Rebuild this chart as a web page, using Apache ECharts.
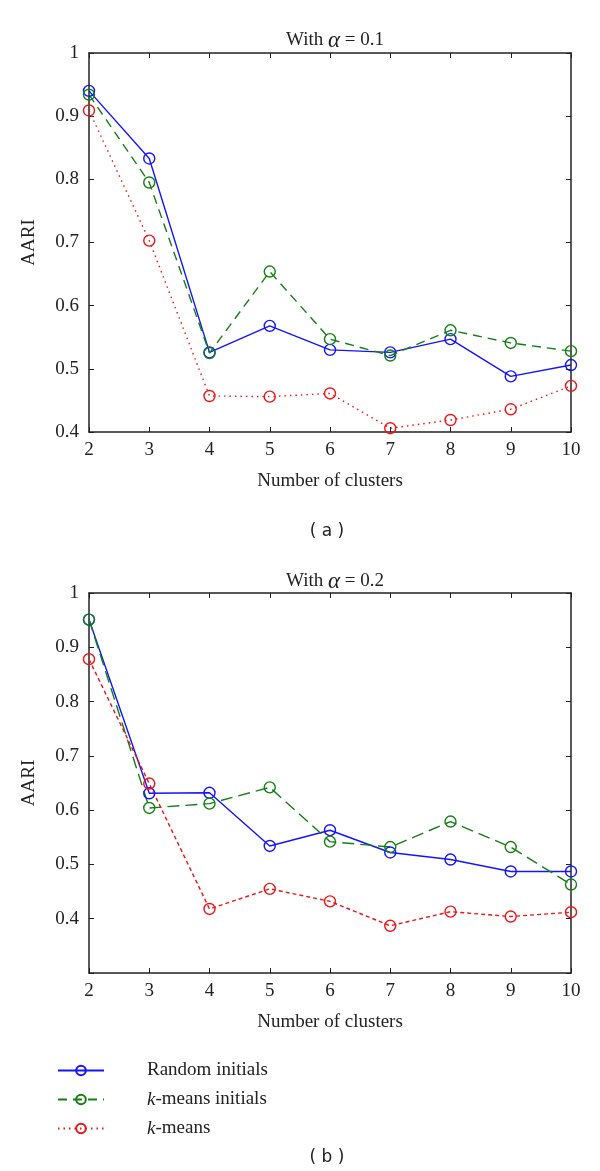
<!DOCTYPE html>
<html><head><meta charset="utf-8">
<script src="https://cdn.jsdelivr.net/npm/echarts@6/dist/echarts.min.js"></script>
<style>html,body{margin:0;padding:0;background:#fff}#c{width:600px;height:1171px}</style>
</head><body><div id="c"></div>
<script>
const clusters = [2,3,4,5,6,7,8,9,10];
const seriesNames = ['Random initials','k-means initials','k-means'];
// panel (a): alpha = 0.1
const aRandom = [0.940,0.833,0.526,0.568,0.530,0.526,0.547,0.488,0.506];
const aKmInit = [0.934,0.795,0.525,0.654,0.547,0.521,0.561,0.541,0.528];
const aKmeans = [0.909,0.703,0.457,0.456,0.461,0.406,0.419,0.436,0.473];
// panel (b): alpha = 0.2
const bRandom = [0.951,0.631,0.632,0.534,0.563,0.522,0.509,0.487,0.487];
const bKmInit = [0.951,0.604,0.612,0.642,0.542,0.532,0.579,0.532,0.463];
const bKmeans = [0.878,0.649,0.418,0.455,0.432,0.387,0.413,0.404,0.412];

const FONT = '"Liberation Serif", "Times New Roman", serif';
const TXT = '#222';
const colors = ['#1414ff','#138013','#f01414'];

function pairs(ys){ return clusters.map((x,i)=>[x, ys[i]]); }

const chart = echarts.init(document.getElementById('c'), null, {renderer:'canvas'});

const gridA = {left:89, width:482, top:53, height:379};
const gridB = {left:89, width:482, top:593, height:380};

function xAx(gi, pos){
  const bottom = pos === 'bottom';
  return {
    type:'value', gridIndex:gi, position:pos, min:2, max:10, interval:1,
    axisLine:{show:true, onZero:false, lineStyle:{color:TXT, width:1.5}},
    axisTick:{show:true, inside:true, length:5, lineStyle:{color:TXT, width:1}},
    splitLine:{show:false},
    axisLabel:{show:bottom, margin:9, color:TXT, fontFamily:FONT, fontSize:19},
    name: bottom ? 'Number of clusters' : '',
    nameLocation:'middle', nameGap:40,
    nameTextStyle:{color:TXT, fontFamily:FONT, fontSize:19}
  };
}
function yAx(gi, pos, min, hideMin){
  const left = pos === 'left';
  return {
    type:'value', gridIndex:gi, position:pos, min:min, max:1, interval:0.1,
    axisLine:{show:true, onZero:false, lineStyle:{color:TXT, width:1.5}},
    axisTick:{show:true, inside:true, length:5, lineStyle:{color:TXT, width:1}},
    splitLine:{show:false},
    axisLabel:{show:left, margin:10, color:TXT, fontFamily:FONT, fontSize:19,
      formatter:function(v){ if(hideMin && Math.abs(v-min)<1e-9) return ''; return String(Math.round(v*10)/10); }},
    name: left ? 'AARI' : '',
    nameLocation:'middle', nameGap:50,
    nameTextStyle:{color:TXT, fontFamily:FONT, fontSize:19}
  };
}

function mk(name, ys, xi, yi, color, type){
  return {
    name:name, type:'line', xAxisIndex:xi, yAxisIndex:yi, data:pairs(ys),
    symbol:'circle', symbolSize:11, showSymbol:true,
    color: color,
    lineStyle:{color:color, width:1.4, type:type},
    itemStyle:{color:'rgba(255,255,255,0)', borderColor:color, borderWidth:1.4},
    emphasis:{disabled:true}, animation:false
  };
}

const titleStyle = {color:TXT, fontFamily:FONT, fontSize:19, fontWeight:'normal',
  rich:{i:{fontStyle:'italic', fontFamily:FONT, fontSize:23, color:TXT}}};

const option = {
  animation:false,
  title:[
    {text:'With {i|α} = 0.1', left:330, top:24, textAlign:'center', textStyle:titleStyle},
    {text:'With {i|α} = 0.2', left:330, top:565, textAlign:'center', textStyle:titleStyle},
    {text:'( a )', left:322, top:518, textAlign:'center',
     textStyle:{color:TXT, fontFamily:'"DejaVu Sans", sans-serif', fontSize:17, fontWeight:'normal'}},
    {text:'( b )', left:322, top:1144, textAlign:'center',
     textStyle:{color:TXT, fontFamily:'"DejaVu Sans", sans-serif', fontSize:17, fontWeight:'normal'}}
  ],
  legend:{
    orient:'vertical', left:52, top:1056, itemWidth:46, itemHeight:12, itemGap:10,
    data:seriesNames,
    formatter:function(n){ return n.indexOf('k-')===0 ? '{i|k}' + n.slice(1) : n; },
    textStyle:{color:TXT, fontFamily:FONT, fontSize:19, padding:[0,0,0,38],
      rich:{i:{fontStyle:'italic', fontFamily:FONT, fontSize:19, color:TXT}}}
  },
  grid:[gridA, gridB],
  xAxis:[xAx(0,'bottom'), xAx(0,'top'), xAx(1,'bottom'), xAx(1,'top')],
  yAxis:[yAx(0,'left',0.4,false), yAx(0,'right',0.4,false), yAx(1,'left',0.3,true), yAx(1,'right',0.3,true)],
  series:[
    mk(seriesNames[0], aRandom, 0, 0, colors[0], 'solid'),
    mk(seriesNames[1], aKmInit, 0, 0, colors[1], [9,6]),
    mk(seriesNames[2], aKmeans, 0, 0, colors[2], [1.5,4]),
    mk(seriesNames[0], bRandom, 2, 2, colors[0], 'solid'),
    mk(seriesNames[1], bKmInit, 2, 2, colors[1], [12,6]),
    mk(seriesNames[2], bKmeans, 2, 2, colors[2], [4,3])
  ]
};
chart.setOption(option);
</script>
</body></html>
